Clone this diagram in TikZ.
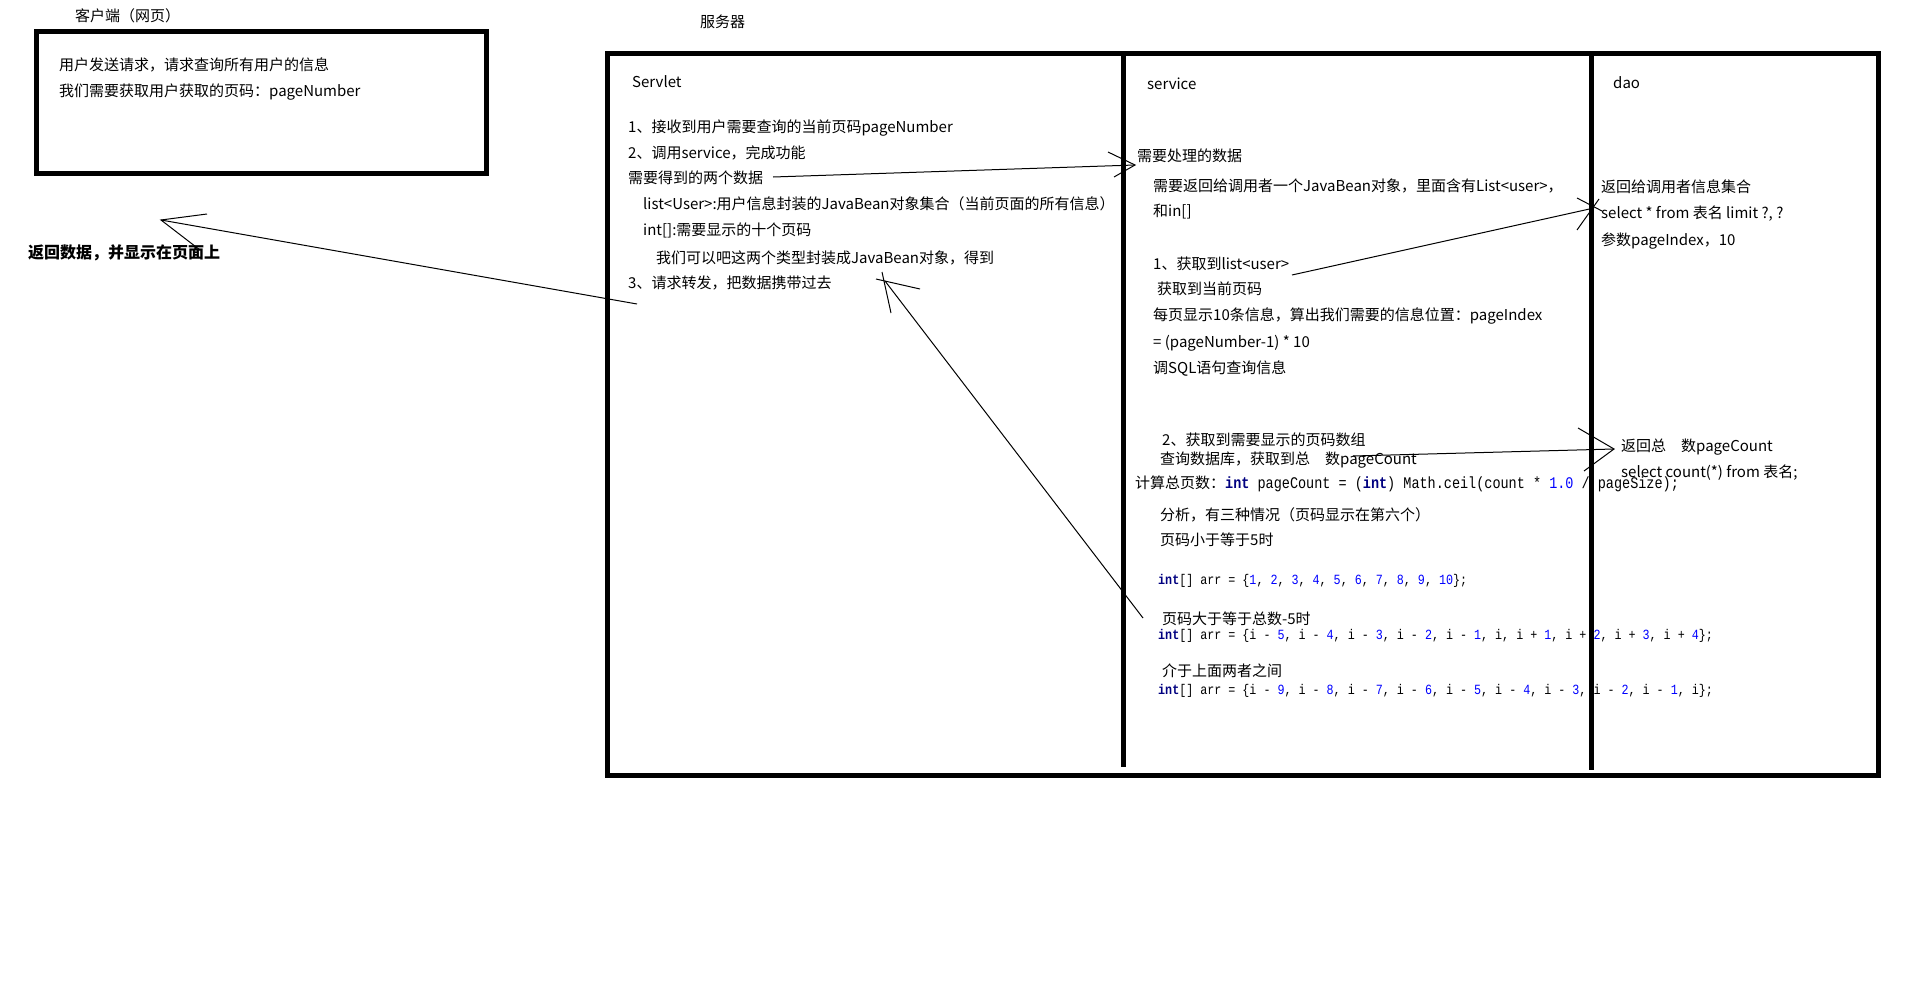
\documentclass[tikz,border=0pt]{standalone}
\usepackage{fontspec}
\usepackage{graphicx}
\setmainfont{Noto Sans CJK SC}
\newfontfamily\cjk{Noto Sans CJK SC}
\newfontfamily\codefont{Liberation Mono}
\definecolor{kwc}{HTML}{000080}
\definecolor{numc}{HTML}{0000FF}
\newcommand\kwd[1]{{\bfseries\color{kwc}#1}}
\newcommand\nmb[1]{{\color{numc}#1}}
\newcommand\tallcode[1]{\scalebox{1}[1.2]{#1}}
\tikzset{
  txt/.style={anchor=base west, inner sep=0pt, font=\cjk\fontsize{15}{18}\selectfont},
  boldtxt/.style={anchor=base west, inner sep=0pt, font=\cjk\bfseries\fontsize{16}{19}\selectfont},
  codetxt/.style={anchor=base west, inner sep=0pt, font=\codefont\fontsize{11.7}{14}\selectfont},
  border/.style={line width=5pt},
  thinline/.style={line width=1pt},
}
\begin{document}
\begin{tikzpicture}[x=1pt,y=-1pt]
\fill[white] (0,0) rectangle (1920,996);
\useasboundingbox (0,0) rectangle (1920,996);

% ---------- client ----------
\node[txt] (clientTitle) at (75,21.5) {客户端（网页）};
\draw[border] (36,31) rectangle (486,173);
\node[txt] (c1) at (59,70.5) {用户发送请求，请求查询所有用户的信息};
\node[txt] (c2) at (59,96.5) {我们需要获取用户获取的页码：pageNumber};
\node[boldtxt] (ret) at (28,258) {返回数据，并显示在页面上};

% ---------- server ----------
\node[txt] (serverTitle) at (700,27.5) {服务器};
\draw[border] (607,53.5) rectangle (1878,775);
\draw[border] (1123,53.5) -- (1123,767);
\draw[border] (1591,53.5) -- (1591,770);

% Servlet column
\node[txt] (servlet) at (632,87.5) {Servlet};
\node[txt] (s1) at (628,132.5) {1、接收到用户需要查询的当前页码pageNumber};
\node[txt] (s2) at (628,158.5) {2、调用service，完成功能};
\node[txt] (s3) at (628,183.5) {需要得到的两个数据};
\node[txt] (s4) at (643,209.5) {list<User>:用户信息封装的JavaBean对象集合（当前页面的所有信息）};
\node[txt] (s5) at (643,235.5) {int[]:需要显示的十个页码};
\node[txt] (s6) at (656,263.5) {我们可以吧这两个类型封装成JavaBean对象，得到};
\node[txt] (s7) at (628,288.5) {3、请求转发，把数据携带过去};

% service column
\node[txt] (service) at (1147,89.5) {service};
\node[txt] (v1) at (1137,161.5) {需要处理的数据};
\node[txt] (v2) at (1153,191.5) {需要返回给调用者一个JavaBean对象，里面含有List<user>，};
\node[txt] (v3) at (1153,216.5) {和in[]};
\node[txt] (v4) at (1153,269.5) {1、获取到list<user>};
\node[txt] (v5) at (1157,294.5) {获取到当前页码};
\node[txt] (v6) at (1153,320.5) {每页显示10条信息，算出我们需要的信息位置：pageIndex};
\node[txt] (v7) at (1153,347.5) {= (pageNumber-1) * 10};
\node[txt] (v8) at (1153,373.5) {调SQL语句查询信息};
\node[txt] (v9) at (1162,445.5) {2、获取到需要显示的页码数组};
\node[txt] (v10) at (1160,464.5) {查询数据库，获取到总　数pageCount};
\node[txt] (v11) at (1135,488.5) {计算总页数：{\codefont\fontsize{13.5}{16}\selectfont\tallcode{\kwd{int} pageCount = (\kwd{int}) Math.ceil(count * \nmb{1.0} / pageSize);}}};
\node[txt] (v12) at (1160,520.5) {分析，有三种情况（页码显示在第六个）};
\node[txt] (v13) at (1160,545.5) {页码小于等于5时};
\node[codetxt] (code1) at (1158,584.5) {\tallcode{\kwd{int}[] arr = \{\nmb{1}, \nmb{2}, \nmb{3}, \nmb{4}, \nmb{5}, \nmb{6}, \nmb{7}, \nmb{8}, \nmb{9}, \nmb{10}\};}};
\node[txt] (v14) at (1162,624.5) {页码大于等于总数-5时};
\node[codetxt] (code2) at (1158,639.5) {\tallcode{\kwd{int}[] arr = \{i - \nmb{5}, i - \nmb{4}, i - \nmb{3}, i - \nmb{2}, i - \nmb{1}, i, i + \nmb{1}, i + \nmb{2}, i + \nmb{3}, i + \nmb{4}\};}};
\node[txt] (v15) at (1162,676.5) {介于上面两者之间};
\node[codetxt] (code3) at (1158,694.5) {\tallcode{\kwd{int}[] arr = \{i - \nmb{9}, i - \nmb{8}, i - \nmb{7}, i - \nmb{6}, i - \nmb{5}, i - \nmb{4}, i - \nmb{3}, i - \nmb{2}, i - \nmb{1}, i\};}};

% dao column
\node[txt] (dao) at (1613,88.5) {dao};
\node[txt] (d1) at (1601,192.5) {返回给调用者信息集合};
\node[txt] (d2) at (1601,218.5) {select * from 表名 limit ?, ?};
\node[txt] (d3) at (1601,245.5) {参数pageIndex，10};
\node[txt] (d4) at (1621,451.5) {返回总　数pageCount};
\node[txt] (d5) at (1621,477.5) {select count(*) from 表名;};

% ---------- connectors ----------
% Servlet -> service
\coordinate (aS) at (773,177);
\coordinate (aT) at (1135,165);
\coordinate (aB1) at (1108,152);
\coordinate (aB2) at (1114,177);
\draw[thinline] (aS) -- (aT);
\draw[thinline] (aB1) -- (aT) -- (aB2);

% service list -> dao
\coordinate (bS) at (1292,275);
\coordinate (bT) at (1594,208);
\draw[thinline] (bS) -- (bT);
\draw[thinline] (1577,198) -- (1602,211);
\draw[thinline] (1577,230) -- (1599,199);

% service pageCount -> dao
\coordinate (cS) at (1353,456);
\coordinate (cT) at (1614,449);
\coordinate (cB1) at (1578,428);
\coordinate (cB2) at (1584,471);
\draw[thinline] (cS) -- (cT);
\draw[thinline] (cB1) -- (cT) -- (cB2);

% service -> Servlet (step 3)
\coordinate (dS) at (1143,618);
\coordinate (dT) at (885,281);
\draw[thinline] (dS) -- (dT);
\draw[thinline] (876,279) -- (920,289);
\draw[thinline] (882,272) -- (891,313);

% Servlet -> client
\coordinate (eS) at (637,304);
\coordinate (eT) at (161,220);
\coordinate (eB1) at (207,214);
\coordinate (eB2) at (200,250);
\draw[thinline] (eS) -- (eT);
\draw[thinline] (eB1) -- (eT) -- (eB2);
\end{tikzpicture}
\end{document}
